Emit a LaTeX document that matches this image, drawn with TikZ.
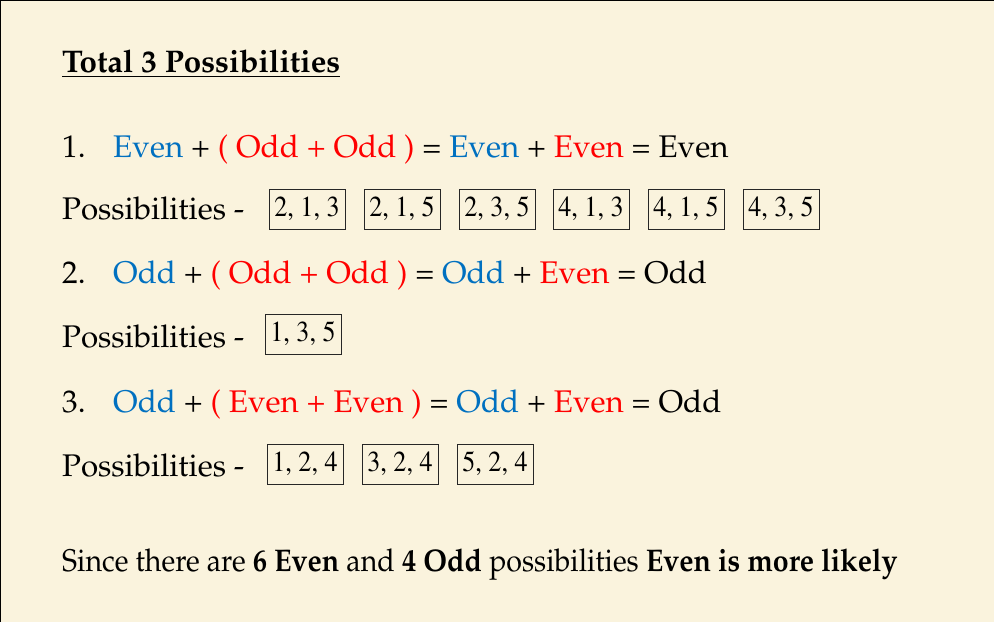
\documentclass[tikz,border=0pt]{standalone}
\usepackage{graphicx}
\IfFileExists{mathpazo.sty}{%
  \usepackage[T1]{fontenc}\usepackage{mathpazo}%
  \newcommand{\boxfnt}{\fontfamily{ptm}\selectfont}%
}{%
  \usepackage{fontspec}\setmainfont{Liberation Serif}%
  \newcommand{\boxfnt}{}%
}
\definecolor{bgc}{HTML}{FAF3DD}
\definecolor{myblue}{HTML}{0070C0}
\definecolor{myred}{HTML}{FF0000}
\tikzset{
  line/.style={anchor=base west, inner sep=0pt, font=\fontsize{31.3}{36}\selectfont},
  ttl/.style={anchor=base west, inner sep=0pt, font=\fontsize{31.3}{36}\selectfont\bfseries},
  pbox/.style={draw=black!85, line width=1pt, minimum width=76pt, minimum height=40pt, inner sep=0pt,
     font=\boxfnt\fontsize{29}{30}\selectfont}
}
\newcommand{\bl}[1]{\textcolor{myblue}{#1}}
\newcommand{\rd}[1]{\textcolor{myred}{#1}}
\newcommand{\bx}[1]{\scalebox{0.9}[1]{#1}}
\begin{document}
\begin{tikzpicture}[x=1pt,y=-1pt]
\fill[bgc] (0,0) rectangle (994,622);
\useasboundingbox (0,0) rectangle (994,622);
\draw[line width=1.5pt] (0,622) -- (0,0) -- (994,0);
\node[ttl] (title) at (62,72) {\underline{Total 3 Possibilities}};
% line 1
\node[line] (n1) at (62,157) {1.};
\node[line] (e1) at (113,157) {\bl{Even} + \rd{( Odd + Odd )} = \bl{Even} + \rd{Even} = Even};
\node[line] (p1) at (62,219) {Possibilities -};
\node[pbox] (b11) at (307,209) {\bx{2, 1, 3}};
\node[pbox] (b12) at (402,209) {\bx{2, 1, 5}};
\node[pbox] (b13) at (497,209) {\bx{2, 3, 5}};
\node[pbox] (b14) at (591,209) {\bx{4, 1, 3}};
\node[pbox] (b15) at (686,209) {\bx{4, 1, 5}};
\node[pbox] (b16) at (781,209) {\bx{4, 3, 5}};
% line 2
\node[line] (n2) at (62,283) {2.};
\node[line] (e2) at (113,283) {\bl{Odd} + \rd{( Odd + Odd )} = \bl{Odd} + \rd{Even} = Odd};
\node[line] (p2) at (62,347) {Possibilities -};
\node[pbox] (b21) at (303,334) {\bx{1, 3, 5}};
% line 3
\node[line] (n3) at (62,412) {3.};
\node[line] (e3) at (113,412) {\bl{Odd} + \rd{( Even + Even )} = \bl{Odd} + \rd{Even} = Odd};
\node[line] (p3) at (62,476) {Possibilities -};
\node[pbox] (b31) at (305,464) {\bx{1, 2, 4}};
\node[pbox] (b32) at (400,464) {\bx{3, 2, 4}};
\node[pbox] (b33) at (495,464) {\bx{5, 2, 4}};
% conclusion
\node[line] (c) at (62,571) {\scalebox{0.913}[1]{Since there are \textbf{6 Even} and \textbf{4 Odd} possibilities \textbf{Even is more likely}}};
\end{tikzpicture}
\end{document}
